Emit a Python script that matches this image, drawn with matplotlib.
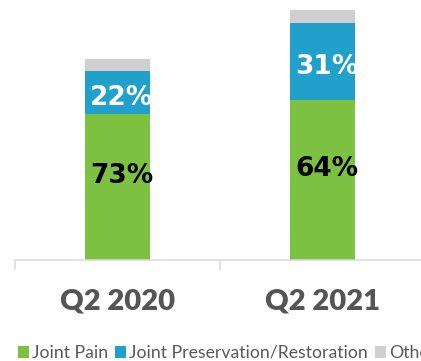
import numpy as np
import matplotlib.pyplot as plt
from matplotlib.patches import Patch

# data (segment heights, arbitrary units)
quarters = ["Q2 2020", "Q2 2021"]
joint_pain = [145.5, 159.5]
joint_preservation = [43, 77]
other = [12, 13]
pain_labels = ["73%", "64%"]
preservation_labels = ["22%", "31%"]
series_names = ["Joint Pain", "Joint Preservation/Restoration", "Other"]

GREEN = "#7CC142"
BLUE = "#21A0CB"
GREY = "#D0CECE"
AXIS_COLOR = "#D9D9D9"
TEXT_COLOR = "#595959"

W, H = 421, 361
fig = plt.figure(figsize=(W / 100, H / 100), dpi=100)
fig.patch.set_facecolor("white")

# plot area runs past the right edge like the cropped original
ax = fig.add_axes([15 / W, (H - 259.5) / H, 410 / W, 259.5 / H])

x = np.arange(len(quarters))
width = 0.317
pain = np.array(joint_pain, dtype=float)
pres = np.array(joint_preservation, dtype=float)
oth = np.array(other, dtype=float)

ax.bar(x, pain, width, color=GREEN, linewidth=0)
ax.bar(x, pres, width, bottom=pain, color=BLUE, linewidth=0)
ax.bar(x, oth, width, bottom=pain + pres, color=GREY, linewidth=0)

# segment labels
for i in range(len(quarters)):
    ax.annotate(pain_labels[i], (x[i], pain[i] / 2), xytext=(3, 8),
                textcoords="offset points", ha="center", va="center",
                fontsize=19, fontweight="bold", color="black")
    ax.annotate(preservation_labels[i], (x[i], pain[i] + pres[i] / 2),
                xytext=(3, -4), textcoords="offset points",
                ha="center", va="center", fontsize=19,
                fontweight="bold", color="white")

ax.set_xlim(-0.5, 1.5)
ax.set_ylim(0, 259.5)

for s in ["top", "right", "left"]:
    ax.spines[s].set_visible(False)
ax.spines["bottom"].set_color(AXIS_COLOR)
ax.spines["bottom"].set_linewidth(1.1)
ax.yaxis.set_visible(False)

ax.set_xticks(x)
ax.set_xticklabels(quarters, fontsize=21, fontweight="heavy",
                   color="#555555", family="Lato")
ax.tick_params(axis="x", which="major", length=0, pad=21)
ax.set_xticks([-0.5, 0.5, 1.5], minor=True)
ax.tick_params(axis="x", which="minor", length=7.5, width=1.1,
               color=AXIS_COLOR, direction="out")

handles = [Patch(facecolor=c, edgecolor="none") for c in (GREEN, BLUE, GREY)]
fig.legend(handles, series_names, loc="center left",
           bbox_to_anchor=(18 / W, 1 - 353 / H), ncol=3, frameon=False,
           handlelength=0.64, handleheight=0.64,
           handletextpad=0.15, columnspacing=0.4, borderpad=0,
           borderaxespad=0, labelcolor=TEXT_COLOR,
           prop={"family": "Lato", "size": 12.7})

fig.savefig("out.png", dpi=100, facecolor="white")
